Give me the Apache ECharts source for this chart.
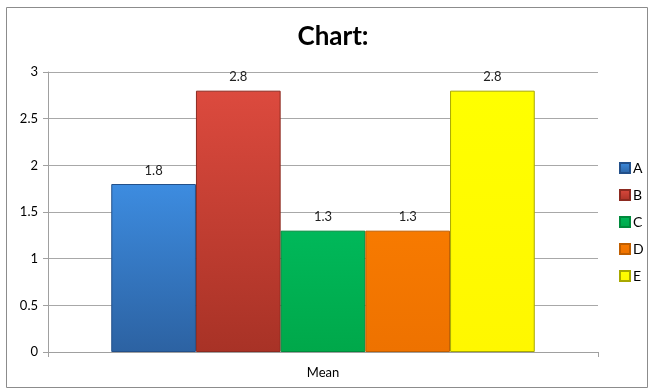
<!DOCTYPE html>
<html><head><meta charset="utf-8">
<script src="https://cdn.jsdelivr.net/npm/echarts@6/dist/echarts.min.js"></script>
<style>html,body{margin:0;padding:0;background:#fff;}#c{width:653px;height:390px;}</style>
</head><body><div id="c"></div>
<script>
const categories = ["Mean"];
const seriesNames = ["A", "B", "C", "D", "E"];
const seriesValues = [[1.8], [2.8], [1.3], [1.3], [2.8]];
const yTicks = [0, 0.5, 1, 1.5, 2, 2.5, 3];
const colorsTop = ["#3d8ce0", "#dc4a3e", "#00b85a", "#f77a00", "#ffff00"];
const colorsBot = ["#2c62a2", "#a83226", "#00a84a", "#ee7200", "#fff700"];
const borders = ["#23508a", "#8c2a20", "#008a3c", "#c05e00", "#a8a800"];

const FONT = "Lato, 'Open Sans', sans-serif";
const chart = echarts.init(document.getElementById('c'), null, {renderer: 'canvas'});
chart.setOption({
  animation: false,
  title: {text: "Chart:", left: 328, top: 19, textAlign: 'center',
    textStyle: {fontFamily: FONT, fontSize: 26, fontWeight: 'bold', color: '#000'}},
  graphic: [{type: 'rect', shape: {x: 6.5, y: 7.5, width: 641, height: 380},
    style: {fill: 'none', stroke: '#8c8c8c', lineWidth: 1}, z: -1}],
  legend: {orient: 'vertical', left: 614, top: 156, itemWidth: 10, itemHeight: 10,
    itemGap: 13, icon: 'rect', data: seriesNames,
    textStyle: {fontFamily: FONT, fontSize: 14, color: '#000', padding: [0,0,0,-2]}},
  grid: {left: 48, right: 55, top: 72, bottom: 38, containLabel: false},
  xAxis: {type: 'category', data: categories,
    axisLine: {lineStyle: {color: '#a0a0a0'}},
    axisTick: {show: true, length: 5, lineStyle: {color: '#a0a0a0'}},
    axisLabel: {fontFamily: FONT, fontSize: 13, color: '#000', margin: 14}},
  yAxis: {type: 'value', min: yTicks[0], max: yTicks[yTicks.length-1], interval: 0.5,
    axisLine: {show: true, lineStyle: {color: '#a0a0a0'}},
    axisTick: {show: true, length: 5, lineStyle: {color: '#a0a0a0'}},
    splitLine: {lineStyle: {color: '#a8a8a8'}},
    axisLabel: {fontFamily: FONT, fontSize: 13, color: '#000', margin: 10}},
  series: seriesNames.map((n, i) => ({
    name: n, type: 'bar', data: seriesValues[i],
    barGap: '0%', barCategoryGap: '23%',
    itemStyle: {
      color: new echarts.graphic.LinearGradient(0, 0, 0, 1, [
        {offset: 0, color: colorsTop[i]}, {offset: 1, color: colorsBot[i]}]),
      borderColor: borders[i], borderWidth: 1
    },
    label: {show: true, position: 'top', distance: 7, fontFamily: FONT, fontSize: 13, color: '#222'}
  }))
});
</script></body></html>
